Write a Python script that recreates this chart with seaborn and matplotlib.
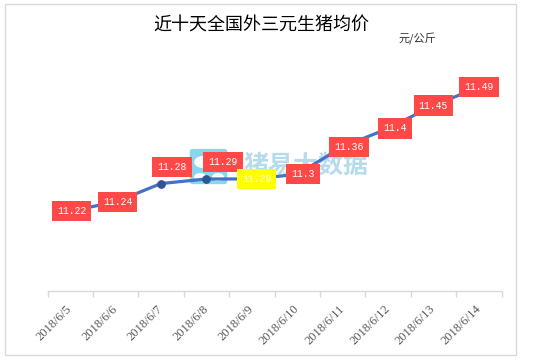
# -*- coding: utf-8 -*-
import matplotlib
matplotlib.use("Agg")
import matplotlib.pyplot as plt
import seaborn as sns
import pandas as pd
from matplotlib.patches import Rectangle, FancyBboxPatch, Circle

dates = ["2018/6/5", "2018/6/6", "2018/6/7", "2018/6/8", "2018/6/9",
         "2018/6/10", "2018/6/11", "2018/6/12", "2018/6/13", "2018/6/14"]
prices = [11.22, 11.24, 11.28, 11.29, 11.29, 11.30, 11.36, 11.40, 11.45, 11.49]

W, H = 533, 361
CJK = ["Noto Sans CJK SC", "DejaVu Sans"]


def fx(px):
    return px / W


def fy(py):
    return 1 - py / H


sns.set_theme(style="white")
plt.rcParams["font.family"] = CJK

fig = plt.figure(figsize=(W / 100, H / 100), dpi=100)
fig.patch.set_facecolor("white")
fig.add_artist(Rectangle((fx(4.5), fy(355)), fx(511.5), 351 / H, transform=fig.transFigure,
                         fill=False, edgecolor="#D9D9D9", linewidth=1))

ax = fig.add_axes([fx(47.5), fy(290.5), fx(454), 250.5 / H])
df = pd.DataFrame({"date": dates, "price": prices})
sns.lineplot(data=df, x="date", y="price", sort=False, ax=ax, color="#4472C4", linewidth=2.3,
             marker="o", markersize=5.5, markerfacecolor="#2F5597", markeredgecolor="#2F5597",
             zorder=3)

ax.set_xlim(-0.5, 9.5)
ax.set_ylim(11.047, 11.047 + 250.5 / 459)
ax.set_xlabel("")
ax.set_ylabel("")
ax.set_yticks([])
for side in ["top", "left", "right"]:
    ax.spines[side].set_visible(False)
ax.spines["bottom"].set_color("#D9D9D9")
ax.spines["bottom"].set_linewidth(1)
ax.patch.set_alpha(0)

# ticks sit between categories, labels on the categories
ax.set_xticks([i - 0.5 for i in range(len(dates) + 1)])
ax.set_xticklabels([])
ax.tick_params(axis="x", which="major", length=4, width=1, color="#D9D9D9", bottom=True)
ax.set_xticks(range(len(dates)), minor=True)
ax.set_xticklabels(dates, minor=True, rotation=45, ha="right", va="center",
                   rotation_mode="anchor", fontsize=9, color="#595959",
                   family="Liberation Serif")
ax.tick_params(axis="x", which="minor", length=0, pad=12)

# watermark
ax.add_patch(FancyBboxPatch((fx(193), fy(182)), fx(31), 31 / H, transform=fig.transFigure,
                            boxstyle="round,pad=0.006", facecolor="#8AD6EE", edgecolor="none",
                            zorder=1, clip_on=False))
for cx, cy, r in [(203, 162, 6), (216, 162, 6), (200, 177, 4), (218, 177, 4)]:
    ax.add_patch(Circle((fx(cx), fy(cy)), r / H, transform=fig.transFigure, facecolor="white",
                        edgecolor="none", zorder=1.1, clip_on=False))
ax.text(fx(243), fy(165), "猪易大数据", transform=fig.transFigure, fontsize=18, fontweight="bold",
        color="#B5DCEC", ha="left", va="center", zorder=1)

# value labels
offsets = [(1, 0), (1.5, 0), (8, 12), (12, 12), (3.5, 0), (4, 0), (4.5, 0), (5, 0), (0, 0), (0, 0)]
for i, (val, off) in enumerate(zip(prices, offsets)):
    yellow = i == 4
    ax.annotate(f"{val:g}", (i, val), xytext=off, textcoords="offset points", ha="center",
                va="center", fontsize=7, color="white", family="Liberation Mono", zorder=6,
                bbox=dict(boxstyle="square,pad=0.52", facecolor="#FFFF00" if yellow else "#FF4848",
                          edgecolor="none"))

fig.text(fx(261), fy(26), "近十天全国外三元生猪均价", fontsize=13, color="black",
         ha="center", va="center")
fig.text(fx(417), fy(39), "元/公斤", fontsize=8, color="#333333", ha="center", va="center")

fig.savefig("out.png", dpi=100)
